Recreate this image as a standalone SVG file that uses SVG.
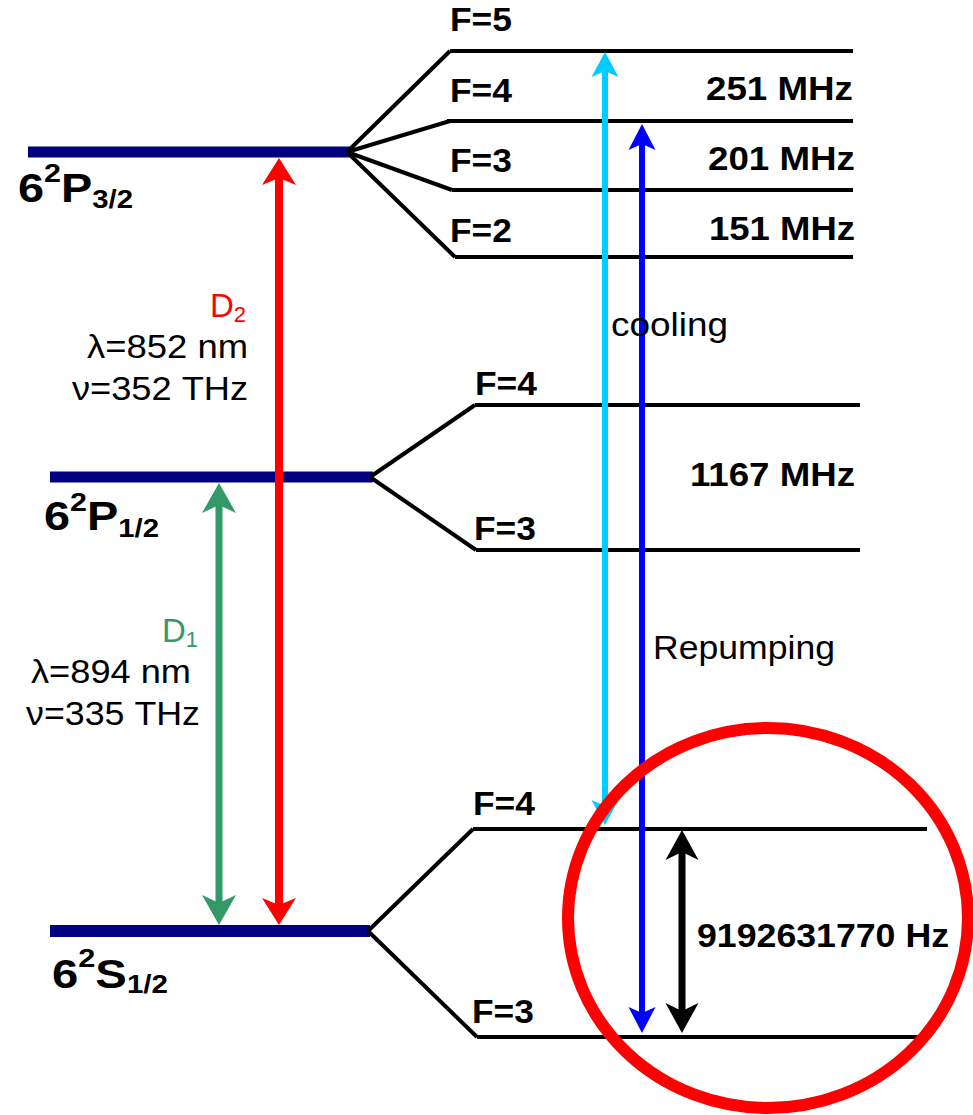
<svg xmlns="http://www.w3.org/2000/svg" width="973" height="1115" viewBox="0 0 973 1115">
<style>
.b{font-family:"Liberation Sans",Arial,sans-serif;font-weight:bold;font-size:33px;fill:#000}
.n{font-family:"Liberation Sans",Arial,sans-serif;font-size:33px;fill:#000}
.st{font-family:"Liberation Sans",Arial,sans-serif;font-weight:bold;font-size:40px;fill:#000}
.sup{font-size:26px}
.sub{font-size:25px}
.bar{stroke:#000080;stroke-width:11;fill:none}
.hf{stroke:#000;stroke-width:4;fill:none;stroke-linejoin:miter}
</style>
<defs>
<marker id="hRed" markerUnits="userSpaceOnUse" markerWidth="60" markerHeight="60" refX="0" refY="0" orient="auto-start-reverse" overflow="visible"><path d="M20,0 L-7,-17 L0,0 L-7,17 Z" fill="#FF0000"/></marker>
<marker id="hGreen" markerUnits="userSpaceOnUse" markerWidth="60" markerHeight="60" refX="0" refY="0" orient="auto-start-reverse" overflow="visible"><path d="M22,0 L-8,-17 L0,0 L-8,17 Z" fill="#339966"/></marker>
<marker id="hCyan" markerUnits="userSpaceOnUse" markerWidth="60" markerHeight="60" refX="0" refY="0" orient="auto-start-reverse" overflow="visible"><path d="M19,0 L-6,-13.5 L0,0 L-6,13.5 Z" fill="#00CCFF"/></marker>
<marker id="hBlue" markerUnits="userSpaceOnUse" markerWidth="60" markerHeight="60" refX="0" refY="0" orient="auto-start-reverse" overflow="visible"><path d="M20,0 L-6,-13.5 L0,0 L-6,13.5 Z" fill="#0000FF"/></marker>
<marker id="hBlack" markerUnits="userSpaceOnUse" markerWidth="60" markerHeight="60" refX="0" refY="0" orient="auto-start-reverse" overflow="visible"><path d="M22,0 L-8,-16.5 L0,0 L-8,16.5 Z" fill="#000"/></marker>
</defs>

<g id="level-P32">
<line class="bar" x1="28" y1="152" x2="352" y2="152"/>
<text class="st" x="18" y="202" textLength="115" lengthAdjust="spacingAndGlyphs">6<tspan class="sup" dy="-20">2</tspan><tspan dy="20">P</tspan><tspan class="sub" dy="6">3/2</tspan></text>
</g>
<g id="level-P32-F5"><line class="hf" x1="450" y1="51" x2="853" y2="51"/><text class="b" x="450" y="31" textLength="62" lengthAdjust="spacingAndGlyphs">F=5</text></g>
<g id="level-P32-F4"><line class="hf" x1="447" y1="121" x2="853" y2="121"/><text class="b" x="450" y="102" textLength="62" lengthAdjust="spacingAndGlyphs">F=4</text></g>
<g id="level-P32-F3"><line class="hf" x1="452" y1="190" x2="853" y2="190"/><text class="b" x="450" y="172" textLength="62" lengthAdjust="spacingAndGlyphs">F=3</text></g>
<g id="level-P32-F2"><line class="hf" x1="455" y1="257" x2="853" y2="257"/><text class="b" x="450" y="242" textLength="62" lengthAdjust="spacingAndGlyphs">F=2</text></g>
<g id="split-P32">
<text class="b" x="706" y="100" textLength="147" lengthAdjust="spacingAndGlyphs">251 MHz</text>
<text class="b" x="708" y="170" textLength="147" lengthAdjust="spacingAndGlyphs">201 MHz</text>
<text class="b" x="709" y="240" textLength="146" lengthAdjust="spacingAndGlyphs">151 MHz</text>
</g>

<g id="level-P12">
<line class="bar" x1="50" y1="477" x2="373" y2="477"/>
<text class="st" x="44" y="530" textLength="115" lengthAdjust="spacingAndGlyphs">6<tspan class="sup" dy="-19">2</tspan><tspan dy="19">P</tspan><tspan class="sub" dy="7">1/2</tspan></text>
</g>
<g id="level-P12-F4"><line class="hf" x1="475" y1="405" x2="860" y2="405"/><text class="b" x="475" y="395" textLength="62" lengthAdjust="spacingAndGlyphs">F=4</text></g>
<g id="level-P12-F3"><line class="hf" x1="476" y1="550" x2="860" y2="550"/><text class="b" x="474" y="540" textLength="62" lengthAdjust="spacingAndGlyphs">F=3</text></g>
<g id="split-P12"><text class="b" x="690" y="486" textLength="165" lengthAdjust="spacingAndGlyphs">1167 MHz</text></g>

<g id="level-S12">
<line class="bar" x1="50" y1="931" x2="370" y2="931" style="stroke-width:12"/>
<text class="st" x="52" y="988" textLength="116" lengthAdjust="spacingAndGlyphs">6<tspan class="sup" dy="-21">2</tspan><tspan dy="21">S</tspan><tspan class="sub" dy="5">1/2</tspan></text>
</g>
<g id="level-S12-F4"><line class="hf" x1="473" y1="829" x2="927" y2="829"/><text class="b" x="473" y="815" textLength="62" lengthAdjust="spacingAndGlyphs">F=4</text></g>
<g id="level-S12-F3"><line class="hf" x1="477" y1="1037" x2="920" y2="1037"/><text class="b" x="472" y="1023" textLength="62" lengthAdjust="spacingAndGlyphs">F=3</text></g>

<g id="connectors">
<path class="hf" d="M347,152 L450,51"/>
<path class="hf" d="M347,152 L450,121"/>
<path class="hf" d="M347,152 L452,190"/>
<path class="hf" d="M347,152 L455,257"/>
<path class="hf" d="M370,477 L475,405"/>
<path class="hf" d="M370,477 L476,550"/>
<path class="hf" d="M368,931 L473,829"/>
<path class="hf" d="M368,931 L477,1037"/>

<line id="D2" x1="279" y1="178" x2="279" y2="905" stroke="#FF0000" stroke-width="8" marker-start="url(#hRed)" marker-end="url(#hRed)"/>
<line id="D1" x1="219" y1="505" x2="219" y2="903" stroke="#339966" stroke-width="7" marker-start="url(#hGreen)" marker-end="url(#hGreen)"/>
<line id="cooling" x1="605" y1="71" x2="605" y2="806" stroke="#00CCFF" stroke-width="6" marker-start="url(#hCyan)" marker-end="url(#hCyan)"/>
<line id="repumping" x1="642" y1="144" x2="642" y2="1013" stroke="#0000FF" stroke-width="6" marker-start="url(#hBlue)" marker-end="url(#hBlue)"/>
<line id="clock" x1="682" y1="852" x2="682" y2="1011" stroke="#000" stroke-width="7" marker-start="url(#hBlack)" marker-end="url(#hBlack)"/>
</g>

<g id="labels">
<text class="n" x="210" y="317" style="fill:#FF0000">D<tspan font-size="22" dy="5">2</tspan></text>
<text class="n" x="87" y="358" textLength="161" lengthAdjust="spacingAndGlyphs">λ=852 nm</text>
<text class="n" x="72" y="400" textLength="176" lengthAdjust="spacingAndGlyphs">ν=352 THz</text>
<text class="n" x="162" y="642" style="fill:#339966">D<tspan font-size="22" dy="5">1</tspan></text>
<text class="n" x="31" y="683" textLength="160" lengthAdjust="spacingAndGlyphs">λ=894 nm</text>
<text class="n" x="26" y="725" textLength="174" lengthAdjust="spacingAndGlyphs">ν=335 THz</text>
<text class="n" x="611" y="336" textLength="117" lengthAdjust="spacingAndGlyphs">cooling</text>
<text class="n" x="653" y="659" textLength="182" lengthAdjust="spacingAndGlyphs">Repumping</text>
<text class="b" x="697" y="947" textLength="252" lengthAdjust="spacingAndGlyphs">9192631770 Hz</text>
</g>

<g id="highlight">
<ellipse cx="768" cy="918" rx="200" ry="190" fill="none" stroke="#FF0000" stroke-width="12"/>
</g>
</svg>
